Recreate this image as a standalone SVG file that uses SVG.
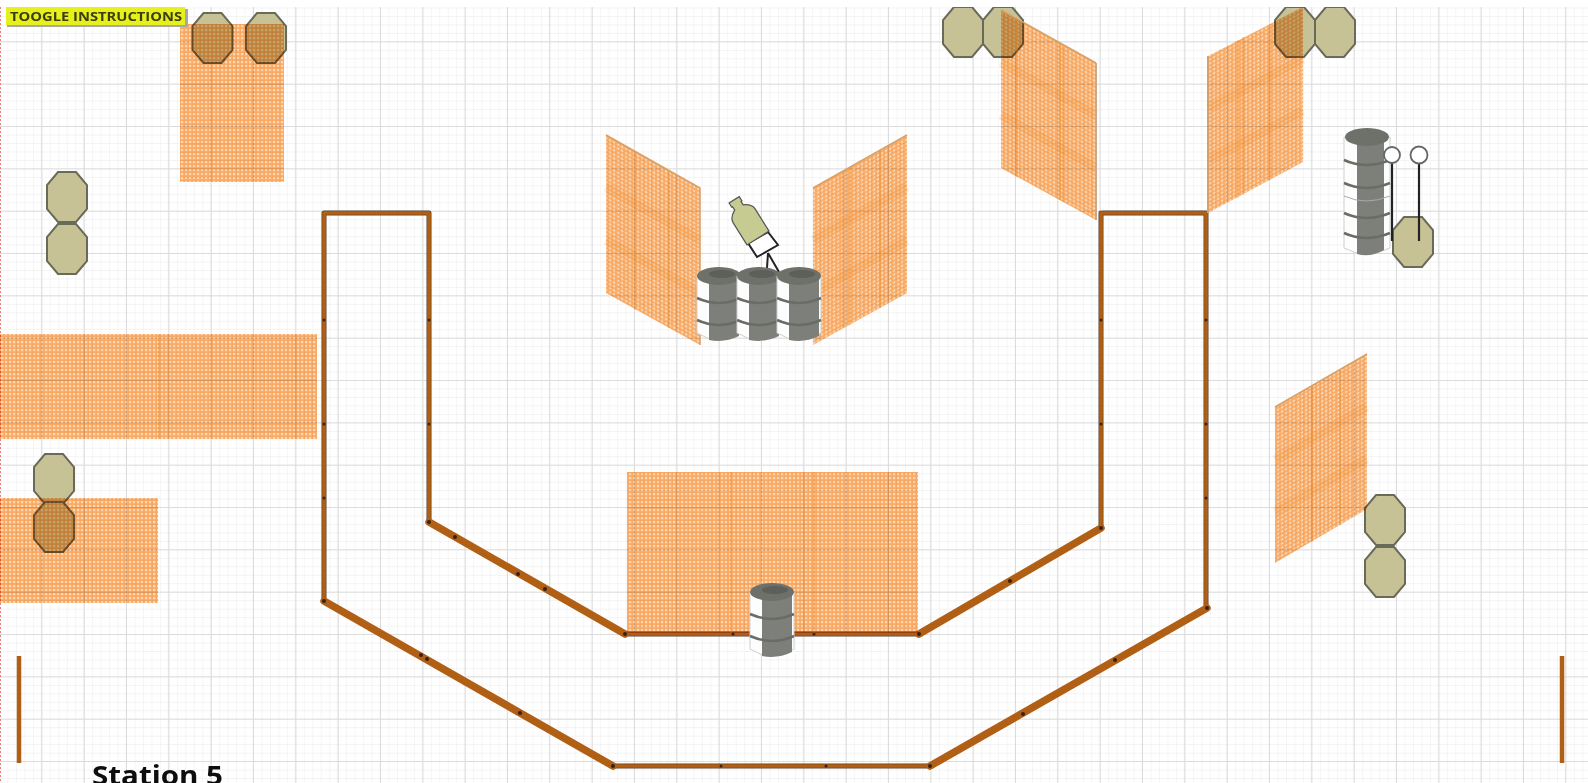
<svg xmlns="http://www.w3.org/2000/svg" xmlns:xlink="http://www.w3.org/1999/xlink" width="1588" height="783" viewBox="0 0 1588 783">
<style>
.oct{fill:#c6c296;stroke:#6a6a58;stroke-width:2}
.mesh{fill:url(#mesh);mix-blend-mode:multiply}
.skewd{fill:url(#meshD);mix-blend-mode:multiply}
.skewu{fill:url(#meshU);mix-blend-mode:multiply}
.seam{stroke:#ee8418;stroke-opacity:.4;fill:none}
.band{stroke:#ee8418;stroke-opacity:.15;stroke-width:9;fill:none}
.wallo{fill:none;stroke:#5a4533;stroke-linejoin:round;stroke-linecap:round}
.wall{fill:none;stroke:#b25f12;stroke-linejoin:round;stroke-linecap:round}
.j{fill:#33241a}
.ring{fill:none;stroke:#6a6d66;stroke-width:2.6}
.pole{stroke:#222;stroke-width:2.2;fill:none}
.hoop{fill:#fff;stroke:#666;stroke-width:1.800}
text{font-family:"Open Sans","Liberation Sans",sans-serif}
</style>
<defs>
<filter id="soft" x="0" y="0" width="100%" height="100%"><feGaussianBlur stdDeviation="0.75"/></filter>
<pattern id="gridMinor" width="8.467" height="8.467" patternUnits="userSpaceOnUse"><path d="M8.467 0V8.467H0" fill="none" stroke="#f0f0f0" stroke-width="1.200"/></pattern>
<pattern id="gridMajor" width="42.333" height="42.333" patternUnits="userSpaceOnUse"><path d="M42.333 0V42.333H0" fill="none" stroke="#dcdcde" stroke-width="2.200"/></pattern>
<pattern id="mesh" width="4" height="4" patternUnits="userSpaceOnUse"><rect width="4" height="4" fill="#f9ab66"/><rect x="1" y="1" width="2.200" height="2.200" fill="#ffd8b4"/></pattern>
<pattern id="meshD" width="4" height="4" patternUnits="userSpaceOnUse" patternTransform="skewY(29)"><rect width="4" height="4" fill="#f9ab66"/><rect x="1" y="1" width="2.200" height="2.200" fill="#ffd8b4"/></pattern>
<pattern id="meshU" width="4" height="4" patternUnits="userSpaceOnUse" patternTransform="skewY(-29)"><rect width="4" height="4" fill="#f9ab66"/><rect x="1" y="1" width="2.200" height="2.200" fill="#ffd8b4"/></pattern>
<polygon id="octagon" class="oct" points="-9,-25 9,-25 20,-12 20,12 9,25 -9,25 -20,12 -20,-12"/>
<g id="barrel">
<path d="M0 9V66Q22 80 44 66V9Z" fill="#fdfdfd" stroke="#cfcfcf" stroke-width="1"/>
<path d="M12 12H42V69Q28 76 12 73Z" fill="#7d807a"/>
<path class="ring" d="M0 31Q22 41 44 31M0 53Q22 63 44 53"/>
<ellipse cx="22" cy="9" rx="22" ry="9" fill="#6e706b"/>
<ellipse cx="25" cy="7" rx="13" ry="4" fill="#5c5e5a"/>
</g>
</defs>
<g filter="url(#soft)">
<rect width="1588" height="783" fill="#fff"/>
<rect width="1588" height="783" fill="url(#gridMinor)"/>
<rect width="1588" height="783" fill="url(#gridMajor)"/>
<line x1="0.5" y1="7" x2="0.5" y2="783" stroke="#f08080" stroke-width="1" stroke-dasharray="2 2"/>

<g id="octagons">
<use id="oct-1" href="#octagon" x="212.500" y="38"/>
<use id="oct-2" href="#octagon" x="266" y="38"/>
<use id="oct-3" href="#octagon" x="67" y="197"/>
<use id="oct-4" href="#octagon" x="67" y="249"/>
<use id="oct-5" href="#octagon" x="54" y="479"/>
<use id="oct-6" href="#octagon" x="54" y="527"/>
<use id="oct-7" href="#octagon" x="963" y="32"/>
<use id="oct-8" href="#octagon" x="1003" y="32"/>
<use id="oct-9" href="#octagon" x="1295" y="32"/>
<use id="oct-10" href="#octagon" x="1335" y="32"/>
<use id="oct-11" href="#octagon" x="1413" y="242"/>
<use id="oct-12" href="#octagon" x="1385" y="520"/>
<use id="oct-13" href="#octagon" x="1385" y="572"/>
</g>

<g id="connectors">
<path class="wallo" stroke-width="5" d="M324 213V601M429 213V522M1101 213V528M1206 213V608M324 213H429M1103 213H1206M613 766H930M625 634H919"/>
<path class="wall" stroke-width="3.600" d="M324 213V601M429 213V522M1101 213V528M1206 213V608M324 213H429M1103 213H1206M613 766H930M625 634H919"/>
<path class="wall" stroke-width="7.500" d="M324 601L613 766M930 766L1207 608M429 522L625 634M919 634L1101 528"/>
<g>
<circle class="j" cx="324" cy="320" r="1.500"/><circle class="j" cx="324" cy="424" r="1.500"/><circle class="j" cx="324" cy="498" r="1.500"/>
<circle class="j" cx="429" cy="320" r="1.500"/><circle class="j" cx="429" cy="424" r="1.500"/>
<circle class="j" cx="1101" cy="320" r="1.500"/><circle class="j" cx="1101" cy="424" r="1.500"/>
<circle class="j" cx="1206" cy="320" r="1.500"/><circle class="j" cx="1206" cy="424" r="1.500"/><circle class="j" cx="1206" cy="498" r="1.500"/>
<circle class="j" cx="421" cy="655" r="2"/><circle class="j" cx="427" cy="659" r="2"/><circle class="j" cx="520" cy="713" r="2"/>
<circle class="j" cx="455" cy="537" r="2"/><circle class="j" cx="518" cy="574" r="2"/><circle class="j" cx="545" cy="589" r="2"/>
<circle class="j" cx="1010" cy="581" r="2"/><circle class="j" cx="1023" cy="714" r="2"/><circle class="j" cx="1115" cy="660" r="2"/>
<circle class="j" cx="721" cy="766" r="1.500"/><circle class="j" cx="826" cy="766" r="1.500"/>
<circle class="j" cx="733" cy="634" r="1.500"/><circle class="j" cx="814" cy="634" r="1.500"/>
<circle class="j" cx="625" cy="634" r="2"/><circle class="j" cx="919" cy="634" r="2"/><circle class="j" cx="613" cy="766" r="2"/><circle class="j" cx="930" cy="766" r="2"/>
<circle class="j" cx="324" cy="601" r="2"/><circle class="j" cx="1207" cy="608" r="2"/><circle class="j" cx="429" cy="522" r="2"/><circle class="j" cx="1101" cy="528" r="2"/>
</g>
</g>

<g id="stand-left"><line x1="19" y1="656" x2="19" y2="763" stroke="#b25f12" stroke-width="4.500"/></g>
<g id="stand-right"><line x1="1562" y1="656" x2="1562" y2="763" stroke="#b25f12" stroke-width="4.500"/></g>

<g id="fence-top-left"><rect class="mesh" x="180" y="24" width="104" height="158"/></g>
<g id="fence-left"><rect class="mesh" x="0" y="334" width="317" height="105"/><path class="seam" stroke-width="1.500" d="M159 334V439"/></g>
<g id="fence-lower-left"><rect class="mesh" x="0" y="498" width="158" height="105"/></g>
<g id="fence-center"><rect class="mesh" x="627" y="472" width="291" height="161"/><path class="seam" stroke-width="1.500" d="M731 472V633M814 472V633"/></g>

<g id="fence-a"><polygon class="skewd" points="606,135 700,188 700,345 606,293"/><path class="seam" stroke-width="1.500" d="M669 171V328M635 151V310"/><path class="band" d="M606 187L700 240M606 240L700 293"/><path d="M606 135L700 188V345" fill="none" stroke="#d9a066" stroke-width="1.500"/></g>
<g id="fence-b"><polygon class="skewu" points="813,188 907,135 907,293 813,345"/><path class="seam" stroke-width="1.500" d="M843 171V328M850 167V325M880 150V308"/><path class="band" d="M813 240L907 187M813 293L907 240"/><path d="M813 188L907 135" fill="none" stroke="#d9a066" stroke-width="1.500"/></g>
<g id="fence-c"><polygon class="skewd" points="1001,10 1096,63 1096,220 1001,168"/><path class="seam" stroke-width="1.500" d="M1063 45V202M1060 43V200M1017 19V177"/><path class="band" d="M1001 62L1096 115M1001 115L1096 168"/><path d="M1096 63V220" fill="none" stroke="#c9a98a" stroke-width="2"/><path d="M1001 10L1096 63" fill="none" stroke="#d9a066" stroke-width="1.500"/></g>
<g id="fence-d"><polygon class="skewu" points="1208,56 1303,7 1303,162 1208,213"/><path class="seam" stroke-width="1.500" d="M1238 40V198M1243 37V195M1270 24V180"/><path class="band" d="M1208 108L1303 59M1208 160L1303 111"/><path d="M1208 56V213" fill="none" stroke="#d9a066" stroke-width="2"/></g>
<g id="fence-e"><polygon class="skewu" points="1275,407 1367,354 1367,509 1275,563"/><path class="seam" stroke-width="1.500" d="M1312 386V542M1340 370V525"/><path class="band" d="M1275 460L1367 407M1275 512L1367 459"/><path d="M1275 407L1367 354" fill="none" stroke="#d9a066" stroke-width="1.500"/></g>

<g id="target">
<path d="M768 253L767 268M768 253L779 272" stroke="#222" stroke-width="2" fill="none"/>
<polygon points="768,232 778,245 757,257 748,243" fill="#fff" stroke="#222" stroke-width="2"/>
<g transform="translate(758,238) rotate(-32)">
<path d="M-13 0V-26Q-13 -32 -5 -36V-40H-6V-45H6V-40H5V-36Q13 -32 13 -26V0Z" fill="#c6cb92" stroke="#555" stroke-width="1.200"/>
</g>
</g>

<g id="barrel-1"><use href="#barrel" x="697" y="267"/></g>
<g id="barrel-2"><use href="#barrel" x="737" y="267"/></g>
<g id="barrel-3"><use href="#barrel" x="777" y="267"/></g>
<g id="barrel-center"><use href="#barrel" x="750" y="583"/></g>

<g id="barrel-tall">
<path d="M1344 137V248Q1366 260 1390 248V137Z" fill="#fdfdfd" stroke="#cfcfcf" stroke-width="1"/>
<path d="M1357 140H1384V250Q1370 258 1357 254Z" fill="#7d807a"/>
<path class="ring" d="M1344 160Q1366 170 1390 160M1344 183Q1366 193 1390 183M1344 213Q1366 223 1390 213M1344 233Q1366 243 1390 233"/>
<path d="M1344 196Q1366 206 1390 196" fill="none" stroke="#aaa" stroke-width="1"/>
<ellipse cx="1367" cy="137" rx="22" ry="9" fill="#6e706b"/>
</g>

<g id="pole-a"><line class="pole" x1="1392" y1="162" x2="1392" y2="241"/><circle class="hoop" cx="1392" cy="155" r="8"/></g>
<g id="pole-b"><line class="pole" x1="1419" y1="163" x2="1419" y2="241"/><circle class="hoop" cx="1419" cy="155" r="8.500"/></g>

<rect width="1588" height="7" fill="#fff"/>

<g id="toggle-instructions">
<rect x="7" y="9" width="181" height="18" fill="#a8a8a8"/>
<rect x="6" y="7" width="179" height="18" fill="#e6f01a"/>
<text x="10" y="21" font-size="12" font-weight="700" fill="#3c3c10" textLength="172" lengthAdjust="spacingAndGlyphs">TOOGLE INSTRUCTIONS</text>
</g>
<text id="station-label" x="92" y="785" font-size="26" font-weight="700" fill="#111" textLength="131" lengthAdjust="spacingAndGlyphs">Station 5</text>
</g>
</svg>
